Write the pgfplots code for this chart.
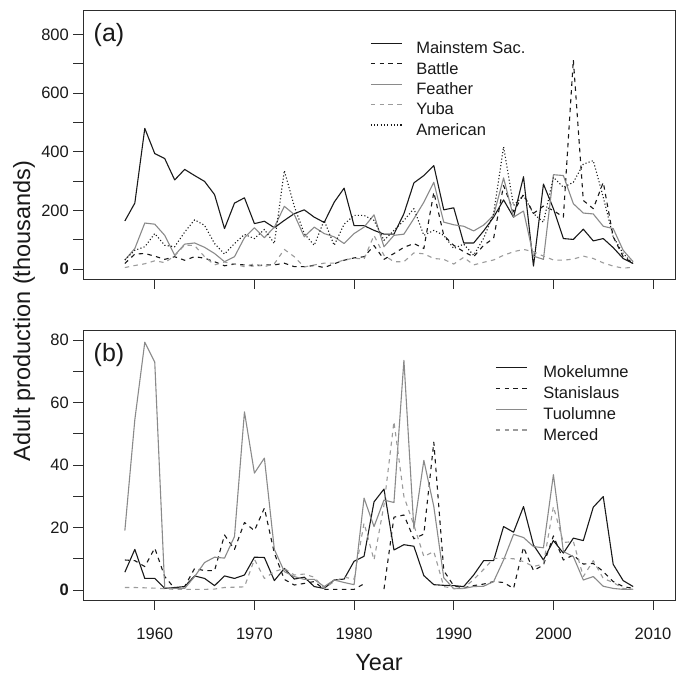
\documentclass[border=0pt]{standalone}
\usepackage{pgfplots}
\pgfplotsset{compat=1.18}
\usepackage{pgfplotstable}
\usepackage{fontspec}
\setmainfont{Liberation Sans}

\definecolor{dk}{RGB}{25,25,25}
\definecolor{gs}{RGB}{138,138,138}
\definecolor{gd}{RGB}{155,155,155}
\definecolor{fr}{RGB}{45,45,45}

\pgfplotstableread{
year ms battle feather yuba american
1957 164 19 31 5 31
1958 225 51 70 12 64
1959 480 53 157 18 76
1960 394 44 153 28 121
1961 377 33 115 22 81
1962 304 42 47 45 76
1963 340 30 85 82 126
1964 319 42 89 80 168
1965 299 37 74 42 149
1966 254 25 53 14 87
1967 138 11 25 24 51
1968 225 17 42 17 87
1969 243 14 107 8 118
1970 155 10 141 18 104
1971 163 14 107 8 135
1972 141 14 143 18 87
1973 166 20 214 67 336
1974 189 8 186 42 214
1975 202 8 110 7 121
1976 177 12 143 14 81
1977 159 5 121 20 166
1978 228 18 110 20 81
1979 276 30 87 31 153
1980 148 38 121 37 183
1981 148 42 143 34 183
1982 132 80 185 115 166
1983 119 33 76 47 98
1984 119 53 115 25 132
1985 189 74 119 25 166
1986 294 87 172 55 206
1987 319 70 228 52 115
1988 353 262 296 36 132
1989 202 115 160 33 115
1990 209 81 151 17 70
1991 89 59 146 40 85
1992 89 42 130 14 47
1993 130 81 150 23 105
1994 177 105 183 31 189
1995 236 285 311 47 417
1996 177 195 177 59 217
1997 315 255 198 67 251
1998 10 190 44 59 189
1999 290 215 33 44 160
2000 206 200 322 31 313
2001 104 177 319 30 279
2002 101 714 223 34 296
2003 136 234 191 44 358
2004 96 206 188 36 370
2005 104 296 146 21 245
2006 73 110 138 10 110
2007 36 42 64 3 53
2008 19 19 25 6 17
}\dataA

\pgfplotstableread{
year mok stan tuol merced
1957 5.7 9.6 19.0 0.8
1958 13.0 9.4 54.5 0.8
1959 3.7 7.5 79.3 0.7
1960 3.7 13.4 72.9 0.6
1961 0.5 4.3 0.7 0.4
1962 0.8 0.5 0.5 0.2
1963 1.1 1.1 0.5 0.2
1964 4.5 6.9 4.3 0.2
1965 3.7 6.2 8.8 0.2
1966 1.4 6.2 10.5 0.3
1967 4.5 17.6 10.2 0.8
1968 3.7 13.0 17.1 0.9
1969 4.8 21.6 57.0 1.0
1970 10.5 19.0 37.4 9.8
1971 10.4 26.2 42.2 3.7
1972 3.0 11.8 13.0 5.9
1973 6.9 3.4 5.9 6.9
1974 3.5 1.6 4.3 4.8
1975 4.1 2.1 3.4 5.1
1976 1.1 2.7 3.4 4.1
1977 0.5 0.2 1.1 0.5
1978 3.2 0.2 3.2 2.7
1979 3.5 0.2 2.4 4.1
1980 9.2 0.2 1.7 3.5
1981 10.8 2.0 29.4 21.4
1982 28.2 nan 20.3 9.6
1983 32.3 0.3 28.8 27.2
1984 12.8 23.3 28.0 53.9
1985 14.5 24.0 73.5 29.9
1986 14.0 16.4 19.6 20.8
1987 4.6 17.9 41.5 10.7
1988 1.7 47.3 26.7 12.3
1989 1.5 6.2 3.9 1.1
1990 1.4 1.3 0.4 0.5
1991 1.1 0.7 0.5 0.5
1992 4.8 1.4 1.1 3.4
1993 9.4 1.9 1.2 6.6
1994 9.4 2.7 2.7 10.1
1995 20.3 2.4 9.6 10.1
1996 18.5 0.5 17.8 10.0
1997 26.7 13.7 16.8 9.1
1998 14.4 6.2 13.9 7.5
1999 9.6 8.0 13.5 8.3
2000 15.8 17.3 36.9 26.7
2001 11.8 9.6 12.3 15.2
2002 16.6 11.2 10.7 15.5
2003 15.8 8.3 3.2 4.3
2004 26.5 8.5 4.3 9.4
2005 29.9 5.9 1.2 3.7
2006 8.2 2.7 0.5 2.4
2007 3.0 1.1 0.2 0.5
2008 1.1 0.5 0.2 0.2
}\dataB

\pgfplotsset{
  legend image code/.code={\draw[#1] (0pt,6pt) -- (31pt,6pt);},
  common/.style={
    scale only axis, width=592pt,
    xmin=1952.8, xmax=2012.2,
    axis line style={fr, line width=0.9pt},
    every tick/.style={fr, line width=0.9pt},
    major tick length=10pt,
    tick align=outside,
    xtick={1960,1970,...,2010},
    xtick pos=bottom, ytick pos=left,
    tick label style={font=\fontsize{16.5}{18}\selectfont, text=dk},
    xticklabel style={inner sep=0pt, text height=11.8pt, yshift=-18pt},
    yticklabel style={inner sep=0pt, xshift=-4pt},
    legend cell align=left,
    legend style={draw=none, fill=none, inner sep=0pt,
      font=\fontsize{16.5}{18}\selectfont, text=dk,
      nodes={inner sep=0pt, text height=12pt, text depth=3.5pt}},
    unbounded coords=jump,
    every axis plot/.append style={line width=1.1pt, line join=round},
  },
  solidk/.style={dk},
  dashk/.style={dk, dash pattern=on 4.4pt off 4.4pt},
  solidg/.style={gs},
  dashg/.style={gd, dash pattern=on 4.4pt off 4.4pt},
  dotk/.style={dk, dash pattern=on 1.1pt off 2.2pt},
}

\begin{document}
\begin{tikzpicture}
\useasboundingbox (0,0) rectangle (686pt,675pt);

\begin{axis}[common, at={(83pt,396pt)}, anchor=south west, height=269pt,
  ymin=-34, ymax=884,
  ytick={0,100,...,800},
  yticklabels={\textbf{0},,200,,400,,600,,800},
  xticklabels={},
  legend style={at={(0.4848,0.883)}, anchor=north west, row sep=4.9pt, column sep=14pt}]
\addplot[solidk] table[x=year,y=ms]{\dataA};
\addplot[dashk] table[x=year,y=battle]{\dataA};
\addplot[solidg] table[x=year,y=feather]{\dataA};
\addplot[dashg] table[x=year,y=yuba]{\dataA};
\addplot[dotk] table[x=year,y=american]{\dataA};
\legend{Mainstem Sac., Battle, Feather, Yuba, American}
\node[anchor=base west, inner sep=0pt, font=\fontsize{25}{30}\selectfont, text=dk, xshift=10.5pt, yshift=-32pt] at (rel axis cs:0,1) {(a)};
\end{axis}

\begin{axis}[common, at={(83pt,75pt)}, anchor=south west, height=270pt,
  ymin=-3.2, ymax=83.2,
  ytick={0,10,...,80},
  yticklabels={\textbf{0},,20,,40,,60,,80},
  xticklabels={1960,1970,1980,1990,2000,2010},
  legend style={at={(0.696,0.869)}, anchor=north west, row sep=5.4pt, column sep=16pt}]
\addplot[solidk] table[x=year,y=mok]{\dataB};
\addplot[dashk] table[x=year,y=stan]{\dataB};
\addplot[solidg] table[x=year,y=tuol]{\dataB};
\addplot[dashg] table[x=year,y=merced]{\dataB};
\legend{Mokelumne, Stanislaus, Tuolumne, Merced}
\node[anchor=base west, inner sep=0pt, font=\fontsize{25}{30}\selectfont, text=dk, xshift=10.5pt, yshift=-32pt] at (rel axis cs:0,1) {(b)};
\end{axis}

\node[rotate=90, anchor=center, inner sep=0pt, font=\fontsize{23.5}{28}\selectfont, text=dk] at (24pt,364pt) {Adult production (thousands)};
\node[anchor=base, inner sep=0pt, font=\fontsize{23.5}{28}\selectfont, text=dk] at (379pt,4pt) {Year};
\end{tikzpicture}
\end{document}
